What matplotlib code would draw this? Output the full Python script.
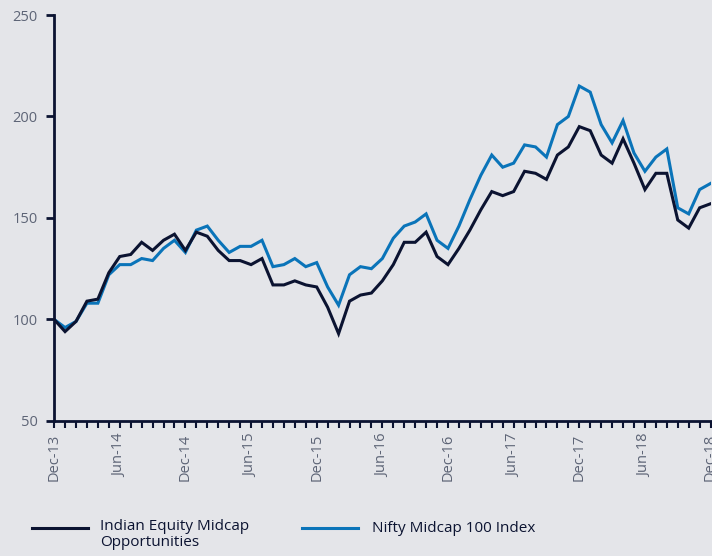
import numpy as np
import matplotlib
matplotlib.use("Agg")
import matplotlib.pyplot as plt
from matplotlib.lines import Line2D

# monthly, Dec-13 .. Dec-18 (rebased to 100)
months = ["Dec-13", "Jan-14", "Feb-14", "Mar-14", "Apr-14", "May-14",
          "Jun-14", "Jul-14", "Aug-14", "Sep-14", "Oct-14", "Nov-14",
          "Dec-14", "Jan-15", "Feb-15", "Mar-15", "Apr-15", "May-15",
          "Jun-15", "Jul-15", "Aug-15", "Sep-15", "Oct-15", "Nov-15",
          "Dec-15", "Jan-16", "Feb-16", "Mar-16", "Apr-16", "May-16",
          "Jun-16", "Jul-16", "Aug-16", "Sep-16", "Oct-16", "Nov-16",
          "Dec-16", "Jan-17", "Feb-17", "Mar-17", "Apr-17", "May-17",
          "Jun-17", "Jul-17", "Aug-17", "Sep-17", "Oct-17", "Nov-17",
          "Dec-17", "Jan-18", "Feb-18", "Mar-18", "Apr-18", "May-18",
          "Jun-18", "Jul-18", "Aug-18", "Sep-18", "Oct-18", "Nov-18",
          "Dec-18"]

fund = [100, 94, 99, 109, 110, 123, 131, 132, 138, 134, 139, 142,
        134, 143, 141, 134, 129, 129, 127, 130, 117, 117, 119, 117,
        116, 106, 93, 109, 112, 113, 119, 127, 138, 138, 143, 131,
        127, 135, 144, 154, 163, 161, 163, 173, 172, 169, 181, 185,
        195, 193, 181, 177, 189, 177, 164, 172, 172, 149, 145, 155,
        157]

index = [100, 96, 99, 108, 108, 122, 127, 127, 130, 129, 135, 139,
         133, 144, 146, 139, 133, 136, 136, 139, 126, 127, 130, 126,
         128, 116, 107, 122, 126, 125, 130, 140, 146, 148, 152, 139,
         135, 146, 159, 171, 181, 175, 177, 186, 185, 180, 196, 200,
         215, 212, 196, 187, 198, 182, 173, 180, 184, 155, 152, 164,
         167]

labels = ["Indian Equity Midcap\nOpportunities", "Nifty Midcap 100 Index"]

bg = "#e4e5e9"
navy = "#0b1331"
blue = "#0a74b9"
tick_col = "#5d6476"

plt.rcParams['font.family'] = ['Open Sans', 'DejaVu Sans']

fig = plt.figure(figsize=(7.12, 5.56), dpi=100, facecolor=bg)
ax = fig.add_axes([0.076, 0.243, 0.922, 0.730])
ax.set_facecolor(bg)

x = np.arange(len(months))
ax.plot(x, index, color=blue, lw=2.2, solid_joinstyle='miter')
ax.plot(x, fund, color=navy, lw=2.2, solid_joinstyle='miter')

ax.set_xlim(0, len(months) - 1)
ax.set_ylim(50, 250)
ax.set_yticks([50, 100, 150, 200, 250])
ax.set_xticks(x)
ax.set_xticklabels([m if i % 6 == 0 else "" for i, m in enumerate(months)],
                   rotation=90)

for s in ["top", "right"]:
    ax.spines[s].set_visible(False)
for s in ["left", "bottom"]:
    ax.spines[s].set_color(navy)
    ax.spines[s].set_linewidth(2.0)

ax.tick_params(axis="y", length=6, width=2, color=navy, labelcolor=tick_col,
               labelsize=10.5, pad=6)
ax.tick_params(axis="x", length=5, width=1.5, color=navy, labelcolor=tick_col,
               labelsize=10.5, pad=4)

# legend, drawn by hand below the axes
ly = 1 - 528 / 556
fig.add_artist(Line2D([32 / 712, 88 / 712], [ly, ly],
                      color=navy, lw=2.2, transform=fig.transFigure))
fig.text(100 / 712, 1 - 519 / 556, labels[0], color=navy, fontsize=11,
         va="top", ha="left", linespacing=1.12)
fig.add_artist(Line2D([302 / 712, 358 / 712], [ly, ly],
                      color=blue, lw=2.2, transform=fig.transFigure))
fig.text(372 / 712, ly, labels[1], color=navy, fontsize=11,
         va="center", ha="left")

fig.savefig("out.png", dpi=100, facecolor=bg)
